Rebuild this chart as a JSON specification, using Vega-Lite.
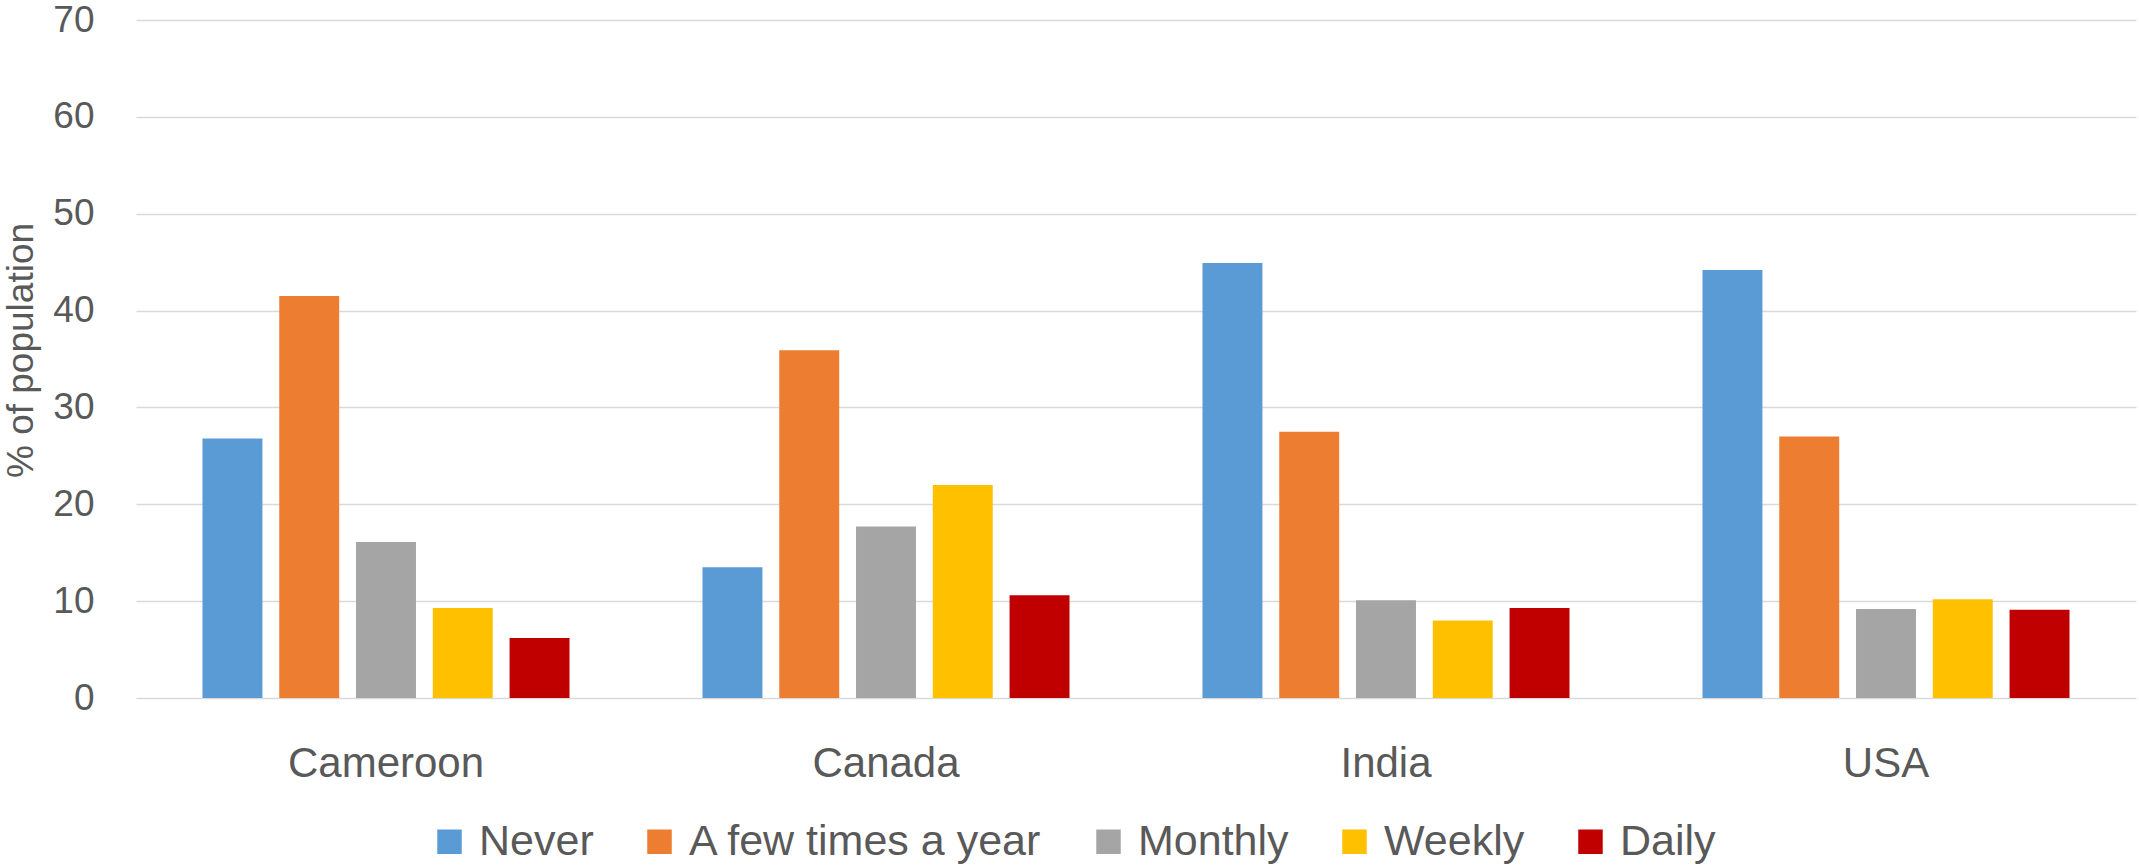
{
  "$schema": "https://vega.github.io/schema/vega-lite/v6.json",
  "width": 2000,
  "height": 678,
  "autosize": {"type": "none"},
  "padding": {"left": 136, "top": 20, "right": 3, "bottom": 167},
  "background": "white",
  "config": {
    "font": "Liberation Sans",
    "view": {"stroke": null},
    "axis": {"labelColor": "#595959", "titleColor": "#595959"}
  },
  "data": {
    "values": [
      {"country": "Cameroon", "frequency": "Never", "percent": 26.8},
      {"country": "Cameroon", "frequency": "A few times a year", "percent": 41.5},
      {"country": "Cameroon", "frequency": "Monthly", "percent": 16.1},
      {"country": "Cameroon", "frequency": "Weekly", "percent": 9.3},
      {"country": "Cameroon", "frequency": "Daily", "percent": 6.2},
      {"country": "Canada", "frequency": "Never", "percent": 13.5},
      {"country": "Canada", "frequency": "A few times a year", "percent": 35.9},
      {"country": "Canada", "frequency": "Monthly", "percent": 17.7},
      {"country": "Canada", "frequency": "Weekly", "percent": 22.0},
      {"country": "Canada", "frequency": "Daily", "percent": 10.6},
      {"country": "India", "frequency": "Never", "percent": 44.9},
      {"country": "India", "frequency": "A few times a year", "percent": 27.5},
      {"country": "India", "frequency": "Monthly", "percent": 10.1},
      {"country": "India", "frequency": "Weekly", "percent": 8.0},
      {"country": "India", "frequency": "Daily", "percent": 9.3},
      {"country": "USA", "frequency": "Never", "percent": 44.2},
      {"country": "USA", "frequency": "A few times a year", "percent": 27.0},
      {"country": "USA", "frequency": "Monthly", "percent": 9.2},
      {"country": "USA", "frequency": "Weekly", "percent": 10.2},
      {"country": "USA", "frequency": "Daily", "percent": 9.1}
    ]
  },
  "mark": {"type": "bar"},
  "encoding": {
    "x": {
      "field": "country",
      "type": "nominal",
      "sort": ["Cameroon", "Canada", "India", "USA"],
      "scale": {"paddingInner": 0, "paddingOuter": 0},
      "axis": {
        "title": null,
        "labelAngle": 0,
        "labelFontSize": 42,
        "labelPadding": 45,
        "labelLimit": 0,
        "ticks": false,
        "domain": false,
        "grid": false,
        "labelBaseline": "top"
      }
    },
    "xOffset": {
      "field": "frequency",
      "type": "nominal",
      "sort": ["Never", "A few times a year", "Monthly", "Weekly", "Daily"],
      "scale": {"paddingInner": 0.219, "paddingOuter": 0.866}
    },
    "y": {
      "field": "percent",
      "type": "quantitative",
      "scale": {"domain": [0, 70], "nice": false},
      "axis": {
        "title": "% of population",
        "titleFontSize": 37,
        "titleFontWeight": "normal",
        "titleX": -115,
        "titleY": 330,
        "titleAngle": -90,
        "titleAlign": "center",
        "titleBaseline": "middle",
        "values": [0, 10, 20, 30, 40, 50, 60, 70],
        "labelFontSize": 37,
        "labelPadding": 42,
        "ticks": false,
        "domain": false,
        "gridColor": "#D9D9D9",
        "gridWidth": 1.6
      }
    },
    "color": {
      "field": "frequency",
      "type": "nominal",
      "sort": ["Never", "A few times a year", "Monthly", "Weekly", "Daily"],
      "scale": {
        "domain": ["Never", "A few times a year", "Monthly", "Weekly", "Daily"],
        "range": ["#5B9BD5", "#ED7D31", "#A5A5A5", "#FFC000", "#C00000"]
      },
      "legend": {
        "title": null,
        "orient": "none",
        "direction": "horizontal",
        "legendX": 292,
        "legendY": 800,
        "padding": 0,
        "symbolType": "square",
        "symbolSize": 600,
        "symbolStrokeWidth": 0,
        "symbolOpacity": 1,
        "labelFontSize": 43,
        "labelColor": "#595959",
        "labelOffset": 8,
        "labelLimit": 1000,
        "columnPadding": 44
      }
    }
  }
}
